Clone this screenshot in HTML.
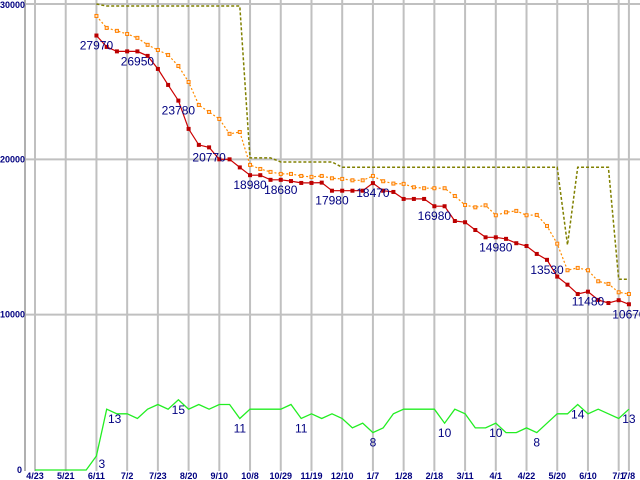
<!DOCTYPE html>
<html><head><meta charset="utf-8">
<style>
html,body{margin:0;padding:0;background:#fff;}
svg{display:block;}
.tk{font-family:"Liberation Sans",sans-serif;font-size:9px;font-weight:bold;fill:#000080;}
.dl{font-family:"Liberation Sans",sans-serif;font-size:12px;fill:#000080;}
</style></head>
<body>
<svg id="chart" width="640" height="480" viewBox="0 0 640 480" xmlns="http://www.w3.org/2000/svg"></svg>
<script>
const dateLabels = ["4/23","5/21","6/11","7/2","7/23","8/20","9/10","10/8","10/29","11/19","12/10","1/7","1/28","2/18","3/11","4/1","4/22","5/20","6/10","7/1","7/8"];
const dateIdx = [0,3,6,9,12,15,18,21,24,27,30,33,36,39,42,45,48,51,54,57,58];
const yTicks = [0,10000,20000,30000];
const startIdx = 6;
const redVals = [27970,27237,26950,26950,26950,26660,25820,24790,23780,21960,20930,20770,20000,20000,19480,18980,18980,18680,18680,18600,18480,18480,
 18500,17980,17980,17980,17980,18470,17980,17900,17450,17450,17450,16980,16980,16030,15950,15450,14980,14980,14880,14600,14420,13910,13530,12450,11930,11330,11480,10950,10750,10930,10670];
const orangeVals = [29230,28460,28270,28070,27820,27370,27040,26720,26010,24980,23500,23050,22600,21640,21760,19640,19380,19190,19060,19060,18930,18870,
 18930,18780,18740,18650,18650,18930,18590,18440,18420,18200,18140,18140,18140,17640,17060,16910,17040,16400,16590,16680,16400,16420,15710,14570,12860,13010,12860,12150,11980,11440,11330];
const oliveVals = [30000,29870,29870,29870,29870,29870,29870,29870,29870,29870,29870,29870,29870,29870,29870,20090,20090,20090,19830,19830,19830,19830,
 19830,19830,19490,19490,19490,19490,19490,19490,19490,19490,19490,19490,19490,19490,19490,19490,19490,19490,19490,19490,19490,19490,19490,19490,14490,19490,19490,19490,19490,12280,12280];
const countVals = [0,0,0,0,0,0,3,13,12,12,11,13,14,13,15,13,14,13,14,14,11,13,13,13,13,14,11,12,
 11,12,11,9,10,8,9,12,13,13,13,13,10,13,12,9,9,10,8,8,9,8,10,12,12,14,12,13,12,11,13];
const redLabelIdx = [6,10,14,17,21,24,29,33,39,45,50,54,58];
const redLabelText = ["27970","26950","23780","20770","18980","18680","17980","18470","16980","14980","13530","11480","10670"];
const countLabelIdx = [6,7,14,20,26,33,40,45,49,53,58];

const NS="http://www.w3.org/2000/svg";
const svg=document.getElementById('chart');
function X(i){return 35+i*10.24;}
function Y(v){return 470-(v/30000)*466;}
function YC(c){return 470-c*4.68;}
function mk(tag,attrs,parent){const e=document.createElementNS(NS,tag);for(const k in attrs)e.setAttribute(k,attrs[k]);(parent||svg).appendChild(e);return e;}

const grid=mk('g',{});


yTicks.forEach(v=>{if(v>0){const l=mk('line',{x1:25,x2:640,y1:Y(v),y2:Y(v),stroke:'#c0c0c0','stroke-width':2},grid);

}});
dateIdx.forEach(i=>{const l=mk('line',{x1:X(i),x2:X(i),y1:0,y2:471,stroke:'#c0c0c0','stroke-width':2},grid);

});
const ax=mk('line',{x1:25,x2:25,y1:0,y2:471,stroke:'#b0b0b0','stroke-width':2});



yTicks.forEach(v=>{const t=mk('text',{x:v===0?22:25,y:v===30000?8:Y(v)+3,'text-anchor':'end',class:'tk'});t.textContent=String(v);

});
dateIdx.forEach((i,k)=>{const t=mk('text',{x:X(i),y:479,'text-anchor':'middle',class:'tk'});t.textContent=dateLabels[k];

});

function pts(vals,off,fy){return vals.map((v,k)=>X(k+off).toFixed(1)+','+fy(v).toFixed(1)).join(' ');}

const ol=mk('polyline',{points:pts(oliveVals,startIdx,Y),fill:'none',stroke:'#808000','stroke-width':1.5,'stroke-dasharray':'3,2'});



const or=mk('polyline',{points:pts(orangeVals,startIdx,Y),fill:'none',stroke:'#ff8c00','stroke-width':1.2,'stroke-dasharray':'2,2'});


orangeVals.forEach((v,k)=>{const r=mk('rect',{x:X(k+startIdx)-1.5,y:Y(v)-1.5,width:3,height:3,fill:'#ffe0c0',stroke:'#ff8000','stroke-width':1});

});

const rl=mk('polyline',{points:pts(redVals,startIdx,Y),fill:'none',stroke:'#cc0000','stroke-width':1.2});


redVals.forEach((v,k)=>{const r=mk('rect',{x:X(k+startIdx)-2,y:Y(v)-2,width:4,height:4,fill:'#bb0000'});

});

const gl=mk('polyline',{points:pts(countVals,0,YC),fill:'none',stroke:'#22ee22','stroke-width':1.3});



redLabelIdx.forEach((i,k)=>{const t=mk('text',{x:X(i),y:Y(redVals[i-startIdx])+14,'text-anchor':'middle',class:'dl'});t.textContent=redLabelText[k];

});
countLabelIdx.forEach(i=>{const c=countVals[i];const t=mk('text',{x:X(i)+(i===6?2:(i===7?8:0)),y:i===6?YC(c)+12:YC(c)+14,'text-anchor':i===6?'start':'middle',class:'dl'});t.textContent=String(c);

});
</script>
</body></html>
